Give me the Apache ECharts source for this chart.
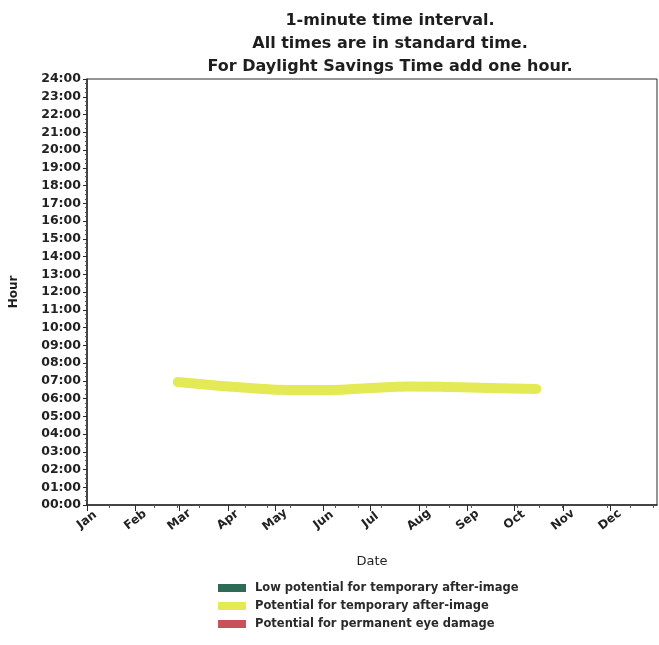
<!DOCTYPE html>
<html>
<head>
<meta charset="utf-8">
<script src="https://cdn.jsdelivr.net/npm/echarts@6/dist/echarts.min.js"></script>
<style>
  html, body { margin: 0; padding: 0; background: #fff; }
  #chart { width: 659px; height: 645px; }
</style>
</head>
<body>
<div id="chart"></div>
<script>
// Glare occurrence band: date of year vs. hour of day (standard time)
const titleLines = [
  '1-minute time interval.',
  'All times are in standard time.',
  'For Daylight Savings Time add one hour.'
];
const monthNames = ['Jan', 'Feb', 'Mar', 'Apr', 'May', 'Jun', 'Jul', 'Aug', 'Sep', 'Oct', 'Nov', 'Dec'];
const legendNames = [
  'Low potential for temporary after-image',
  'Potential for temporary after-image',
  'Potential for permanent eye damage'
];
const legendColors = ['#2f6a57', '#e3ea55', '#c8525c'];

// glare band centre, hours of day
const glareDates = ['2023-02-28', '2023-03-21', '2023-04-15', '2023-05-10', '2023-06-05',
                    '2023-07-01', '2023-07-26', '2023-08-21', '2023-09-15', '2023-10-15'];
const glareHours = [6.93, 6.76, 6.59, 6.48, 6.48, 6.59, 6.68, 6.65, 6.59, 6.54];

const year = 2023;
const monthStarts = monthNames.map((m, i) => Date.UTC(year, i, 1));

const chart = echarts.init(document.getElementById('chart'), null, { renderer: 'canvas' });
const font = 'DejaVu Sans';

function hh(v) {
  const h = Math.round(v);
  return (h < 10 ? '0' : '') + h + ':00';
}

chart.setOption({
  animation: false,
  backgroundColor: '#ffffff',
  title: {
    text: titleLines.join('\n'),
    left: 385,
    textAlign: 'center',
    top: 4,
    textStyle: { fontFamily: font, fontSize: 16, fontWeight: 'bold', color: '#1e1e1e', lineHeight: 23 }
  },
  legend: {
    orient: 'vertical',
    left: 213,
    top: 577,
    itemWidth: 28,
    itemHeight: 8,
    itemGap: 6,
    icon: 'rect',
    data: legendNames,
    textStyle: { fontFamily: font, fontSize: 11.5, color: '#2a2a2a', fontWeight: 'bold', padding: [0, 0, 0, 4] }
  },
  grid: {
    left: 86, right: 2, top: 79, bottom: 140,
    show: true, borderColor: '#2a2a2a', borderWidth: 1, backgroundColor: 'transparent'
  },
  xAxis: {
    type: 'value',
    min: Date.UTC(year, 0, 1),
    max: Date.UTC(year, 11, 31),
    name: 'Date',
    nameLocation: 'middle',
    nameGap: 50,
    nameTextStyle: { fontFamily: font, fontSize: 13, color: '#1e1e1e' },
    axisLine: { show: true, lineStyle: { color: '#2a2a2a', width: 1.5 } },
    axisTick: { show: true, length: 6, lineStyle: { color: '#2a2a2a' }, customValues: monthStarts },
    minorTick: { show: true, splitNumber: 4, length: 3, lineStyle: { color: '#555' } },
    axisLabel: {
      customValues: monthStarts,
      rotate: 38,
      margin: 15,
      align: 'center',
      verticalAlign: 'middle',
      fontFamily: font, fontSize: 12, fontWeight: 'bold', color: '#222',
      formatter: v => monthNames[new Date(v).getUTCMonth()]
    },
    splitLine: { show: false }
  },
  yAxis: {
    type: 'value',
    min: 0, max: 24, interval: 1,
    name: 'Hour',
    nameLocation: 'middle',
    nameGap: 67,
    nameRotate: 90,
    nameTextStyle: { fontFamily: font, fontSize: 12, fontWeight: 'bold', color: '#1e1e1e' },
    axisLine: { show: true, lineStyle: { color: '#2a2a2a', width: 1.5 } },
    axisTick: { show: true, length: 4, lineStyle: { color: '#2a2a2a' } },
    minorTick: { show: true, splitNumber: 4, length: 2, lineStyle: { color: '#555' } },
    axisLabel: {
      margin: 6,
      fontFamily: font, fontSize: 12.5, fontWeight: 'bold', color: '#222',
      formatter: hh
    },
    splitLine: { show: false }
  },
  series: [
    { name: legendNames[0], type: 'line', data: [], itemStyle: { color: legendColors[0] } },
    {
      name: legendNames[1],
      type: 'line',
      smooth: 0.5,
      showSymbol: false,
      data: glareDates.map((d, i) => [Date.parse(d), glareHours[i]]),
      itemStyle: { color: legendColors[1] },
      lineStyle: { color: legendColors[1], width: 10, cap: 'round', join: 'round' }
    },
    { name: legendNames[2], type: 'line', data: [], itemStyle: { color: legendColors[2] } }
  ]
});
</script>
</body>
</html>
